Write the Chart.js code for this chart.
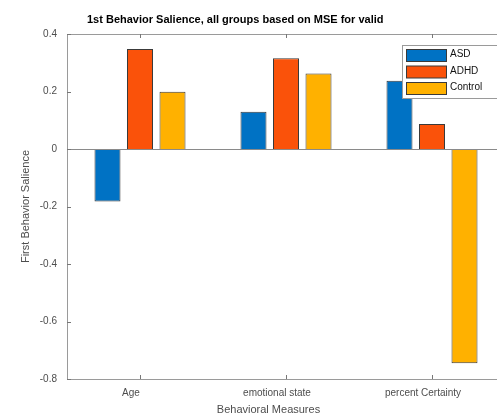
<!DOCTYPE html>
<html>
<head>
<meta charset="utf-8">
<script src="https://cdn.jsdelivr.net/npm/chart.js@4"></script>
<style>
  html, body { margin: 0; padding: 0; background: #fff; overflow: hidden; }
  #wrap { width: 497px; height: 417px; overflow: hidden; }
  #box { width: 520px; height: 417px; }
</style>
</head>
<body>
<div id="wrap"><div id="box"><canvas id="salienceChart"></canvas></div></div>
<script>
// chart data
const categories = ['Age', 'emotional state', 'percent Certainty'];
const groups = ['ASD', 'ADHD', 'Control'];
const asdValues = [-0.183, 0.130, 0.237];
const adhdValues = [0.348, 0.316, 0.087];
const controlValues = [0.199, 0.263, -0.745];
const yTicks = [0.4, 0.2, 0, -0.2, -0.4, -0.6, -0.8];

const groupColors = ['#0072C4', '#FA520A', '#FFB100'];
const FONT = '"Liberation Sans", Arial, sans-serif';

// frame, ticks, zero line, title, x label and legend drawn MATLAB style
const matlabFrame = {
    id: 'matlabFrame',
    afterDatasetsDraw(chart) {
        const ctx = chart.ctx;
        const a = chart.chartArea;
        const xs = chart.scales.x, ys = chart.scales.y;
        ctx.save();
        // zero baseline
        ctx.strokeStyle = '#8a8a8a';
        ctx.lineWidth = 1;
        const y0 = Math.round(ys.getPixelForValue(0)) + 0.5;
        ctx.beginPath();
        ctx.moveTo(a.left, y0); ctx.lineTo(a.right, y0);
        ctx.stroke();
        // box
        ctx.strokeStyle = '#9a9a9a';
        ctx.beginPath();
        ctx.moveTo(Math.round(a.left) + 0.5, a.top);
        ctx.lineTo(Math.round(a.left) + 0.5, a.bottom);
        ctx.moveTo(a.left, Math.round(a.top) + 0.5);
        ctx.lineTo(a.right, Math.round(a.top) + 0.5);
        ctx.moveTo(a.left, Math.round(a.bottom) + 0.5);
        ctx.lineTo(a.right, Math.round(a.bottom) + 0.5);
        ctx.moveTo(Math.round(a.right) - 0.5, a.top);
        ctx.lineTo(Math.round(a.right) - 0.5, a.bottom);
        ctx.stroke();
        // tick marks
        ctx.strokeStyle = '#777';
        ctx.beginPath();
        yTicks.forEach(v => {
            const py = Math.round(ys.getPixelForValue(v)) + 0.5;
            ctx.moveTo(a.left, py); ctx.lineTo(a.left + 4, py);
        });
        categories.forEach((c, i) => {
            const px = Math.round(xs.getPixelForValue(i)) + 0.5;
            ctx.moveTo(px, a.bottom); ctx.lineTo(px, a.bottom - 4);
            ctx.moveTo(px, a.top); ctx.lineTo(px, a.top + 4);
        });
        ctx.stroke();
        ctx.restore();
    },
    afterDraw(chart) {
        const ctx = chart.ctx;
        const a = chart.chartArea;
        ctx.save();
        // title
        ctx.fillStyle = '#000';
        ctx.font = 'bold 11px ' + FONT;
        ctx.textBaseline = 'middle';
        ctx.textAlign = 'left';
        ctx.fillText('1st Behavior Salience, all groups based on MSE for valid', 87, 20);
        // x axis title
        ctx.fillStyle = '#4d4d4d';
        ctx.font = '11px ' + FONT;
        ctx.textAlign = 'center';
        ctx.fillText('Behavioral Measures', a.left + a.width * 0.46, 410);
        // legend
        const lx = 402.5, ly = 45.5;
        ctx.fillStyle = '#fff';
        ctx.strokeStyle = '#9a9a9a';
        ctx.fillRect(lx, ly, 120, 53);
        ctx.strokeRect(lx, ly, 120, 53);
        ctx.font = '10px ' + FONT;
        ctx.textAlign = 'left';
        chart.data.datasets.forEach((ds, i) => {
            const sy = 49.5 + i * 16.5;
            ctx.fillStyle = ds.backgroundColor;
            ctx.fillRect(406.5, sy, 40, 12);
            ctx.strokeStyle = '#3a3a3a';
            ctx.strokeRect(406.5, sy, 40, 12);
            ctx.fillStyle = '#111';
            ctx.fillText(ds.label, 450, sy + 5);
        });
        ctx.restore();
    }
};

const seriesValues = [asdValues, adhdValues, controlValues];

new Chart(document.getElementById('salienceChart'), {
    type: 'bar',
    data: {
        labels: categories,
        datasets: groups.map((g, i) => ({
            label: g,
            data: seriesValues[i],
            backgroundColor: groupColors[i],
            borderColor: '#3a3a3a',
            borderWidth: 1,
            categoryPercentage: 0.668,
            barPercentage: 0.8
        }))
    },
    options: {
        responsive: true,
        maintainAspectRatio: false,
        animation: false,
        layout: { padding: { top: 34, left: 19, right: 15, bottom: 0 } },
        plugins: {
            legend: { display: false },
            title: { display: false },
            tooltip: { enabled: false }
        },
        scales: {
            x: {
                grid: { display: false, drawTicks: false },
                border: { display: false },
                ticks: {
                    color: '#4d4d4d',
                    font: { family: FONT, size: 10 },
                    padding: 8,
                    labelOffset: -9,
                    maxRotation: 0
                },
                afterFit(scale) { scale.height = 38; }
            },
            y: {
                min: -0.8,
                max: 0.4,
                grid: { display: false, drawTicks: false },
                border: { display: false },
                afterBuildTicks(scale) { scale.ticks = yTicks.map(v => ({ value: v })); },
                ticks: {
                    color: '#4d4d4d',
                    font: { family: FONT, size: 10 },
                    padding: 10,
                    callback: v => String(Math.round(v * 10) / 10)
                },
                title: {
                    display: true,
                    text: 'First Behavior Salience',
                    color: '#4d4d4d',
                    font: { family: FONT, size: 11 },
                    padding: 0
                },
                afterFit(scale) { scale.width = 48; }
            }
        }
    },
    plugins: [matlabFrame]
});
</script>
</body>
</html>
